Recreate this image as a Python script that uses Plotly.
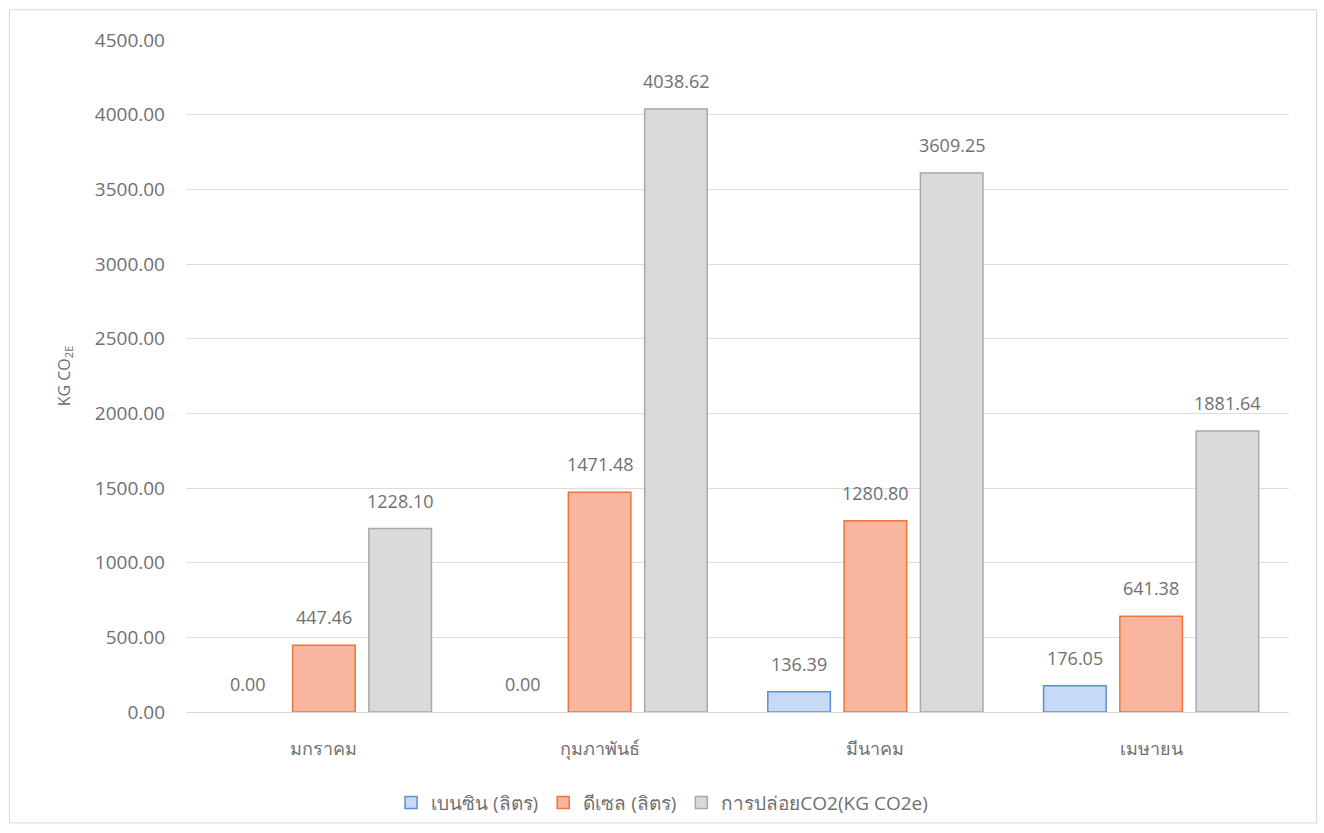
import plotly.graph_objects as go

months = ["มกราคม", "กุมภาพันธ์", "มีนาคม", "เมษายน"]
benzin = [0.00, 0.00, 136.39, 176.05]
diesel = [447.46, 1471.48, 1280.80, 641.38]
co2 = [1228.10, 4038.62, 3609.25, 1881.64]
series_names = ["เบนซิน (ลิตร)", "ดีเซล (ลิตร)", "การปล่อยCO2(KG CO2e)"]
tick_vals = [0, 500, 1000, 1500, 2000, 2500, 3000, 3500, 4000, 4500]

fills = ["#c6daf5", "#f9b69e", "#dadadd"]
lines = ["#5b8ed8", "#f0733a", "#a8a8ab"]
font_fam = "Open Sans, Noto Sans, DejaVu Sans, sans-serif"
txt = "#707070"

fig = go.Figure()
all_vals = [benzin, diesel, co2]
for i, (name, vals, fc, lc) in enumerate(zip(series_names, all_vals, fills, lines)):
    # legend entry with the full border style
    fig.add_trace(go.Bar(
        x=[months[0]], y=[None], name=name, offsetgroup=str(i), legendgroup=name,
        marker=dict(color=fc, line=dict(color=lc, width=1.5)), hoverinfo="skip",
    ))
    # actual bars (zero-height bars drawn without outline)
    fig.add_trace(go.Bar(
        x=months, y=vals, name=name, offsetgroup=str(i), legendgroup=name,
        showlegend=False,
        marker=dict(color=fc, line=dict(color=lc, width=[0 if v == 0 else 1.5 for v in vals])),
    ))

# value labels above bars (offset to the bar of each series)
n = len(series_names)
bar_slot = (1 - 0.17) / n
for i, vals in enumerate(all_vals):
    off = (i - (n - 1) / 2) * bar_slot
    for j, v in enumerate(vals):
        fig.add_annotation(
            x=j + off, y=v, xref="x", yref="y", text=f"{v:.2f}",
            showarrow=False, yanchor="bottom", yshift=14,
            font=dict(size=18, color=txt, family=font_fam),
        )

fig.update_layout(
    width=1324, height=833,
    barmode="group", bargap=0.17, bargroupgap=0.18,
    paper_bgcolor="white", plot_bgcolor="white",
    margin=dict(l=186, r=35, t=40, b=120),
    font=dict(family=font_fam, color=txt, size=18),
    showlegend=True,
    legend=dict(orientation="h", x=0.4316, xanchor="center",
                y=-0.105, yanchor="top",
                font=dict(size=19, color=txt), itemwidth=30, traceorder="normal"),
    shapes=[dict(type="rect", xref="paper", yref="paper",
                 x0=-0.16, x1=1.025, y0=-0.165, y1=1.045,
                 line=dict(color="#d9d9d9", width=1))],
    yaxis=dict(range=[0, 4500], tickvals=tick_vals, tickformat=".2f",
               gridcolor="#dcdcdc", gridwidth=1, zeroline=False,
               showline=False, ticks="", ticklen=0, ticklabelstandoff=20,
               tickfont=dict(size=19, color=txt),
               title=dict(text="KG CO<sub>2E</sub>", font=dict(size=16, color=txt), standoff=20)),
    xaxis=dict(showline=True, linecolor="#d9d9d9", linewidth=1,
               ticklabelstandoff=20,
               tickfont=dict(size=18, color=txt), ticks=""),
)

fig.write_html("out.html")
